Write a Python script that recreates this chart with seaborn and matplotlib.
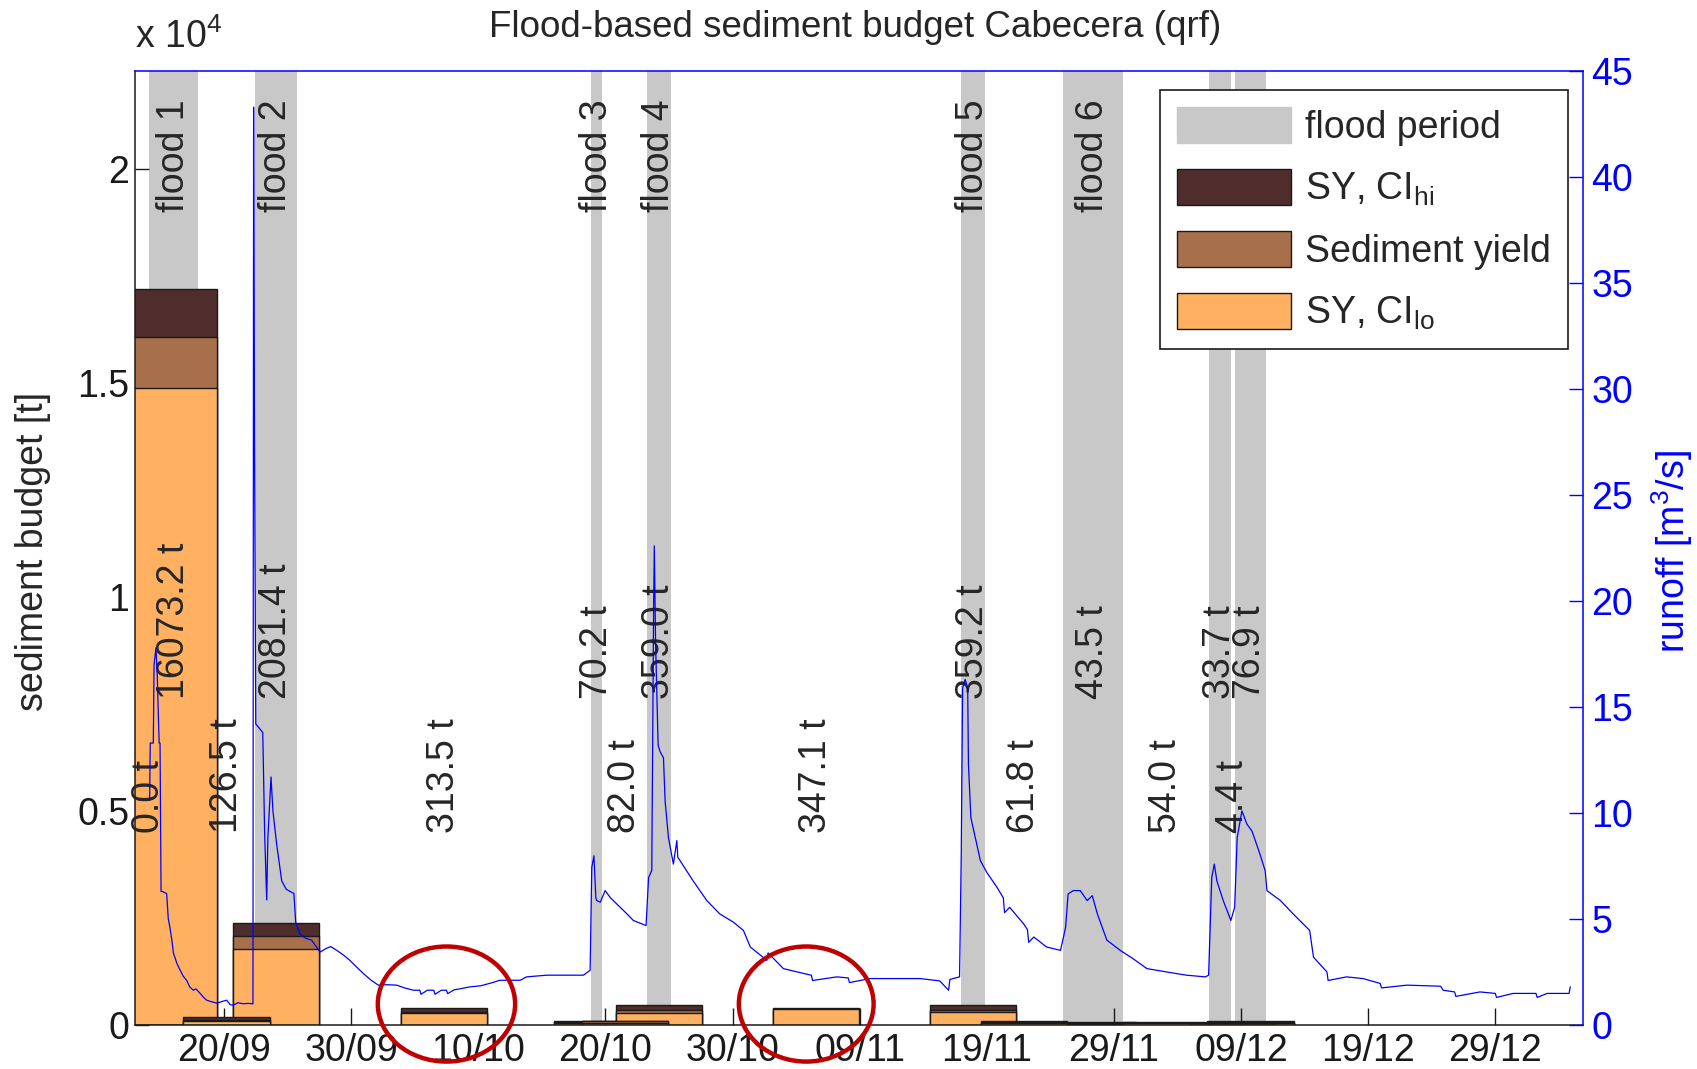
import numpy as np
import pandas as pd
import seaborn as sns
import matplotlib
matplotlib.use('Agg')
import matplotlib.pyplot as plt
import matplotlib.dates as mdates
from matplotlib.patches import Patch, Ellipse

# ---- data ----
origin = pd.Timestamp('2009-09-13 00:00')
record_start = '2009-09-14 01:00'

flood_names = ['flood 1', 'flood 2', 'flood 3', 'flood 4', 'flood 5', 'flood 6', '', '']
flood_start = ['2009-09-14 03:00', '2009-09-22 11:00', '2009-10-18 21:00', '2009-10-23 07:00',
               '2009-11-16 23:00', '2009-11-24 23:00', '2009-12-06 11:00', '2009-12-08 12:30']
flood_end = ['2009-09-17 23:00', '2009-09-25 17:00', '2009-10-19 18:30', '2009-10-25 04:00',
             '2009-11-18 21:00', '2009-11-29 17:00', '2009-12-08 05:30', '2009-12-10 23:00']

# sediment budget of each flood [t]
flood_sy = [16073.2, 2081.4, 70.2, 359.0, 359.2, 43.5, 33.7, 76.9]
flood_ci_lo = [14900, 1765, 50, 290, 300, 30, 22, 52]
flood_ci_hi = [17200, 2390, 95, 465, 460, 60, 48, 105]

# sediment budget of the period before each flood [t]
inter_sy = [0.0, 126.5, 313.5, 82.0, 347.1, 61.8, 54.0, 4.4]
inter_ci_lo = [0, 95, 290, 55, 385, 45, 38, 3]
inter_ci_hi = [0, 190, 405, 105, 390, 85, 75, 6]

# runoff [m3/s], time in days after origin
runoff_day = [1.15, 1.20, 1.44, 1.50, 1.65, 1.75, 1.90, 1.97, 2.05, 2.15, 2.49, 2.62, 2.75, 2.90,
              3.02, 3.30, 3.54, 3.80, 4.07, 4.30, 4.59, 4.80, 5.11, 5.40, 5.64, 6.00, 6.43, 6.80,
              7.21, 7.50, 7.74, 8.10, 8.52, 8.90, 9.28, 9.33, 9.40, 9.50, 10.05, 10.20, 10.36,
              10.45, 10.70, 10.85, 11.15, 11.54, 11.90, 12.20, 12.50, 12.64, 12.98, 13.40, 13.90,
              14.56, 15.00, 15.40, 15.87, 16.40, 16.90, 17.40, 17.96, 18.60, 19.14, 19.80, 20.59,
              21.20, 21.90, 22.40, 22.50, 23.00, 23.50, 23.60, 24.10, 24.50, 24.60, 25.10, 25.50,
              26.36, 27.20, 28.06, 28.70, 30.30, 30.80, 32.40,
              35.27, 35.80, 35.93, 36.10, 36.25, 36.33, 36.60, 36.98, 37.40, 37.90, 38.70, 39.20,
              40.20, 40.40, 40.65, 40.80, 40.85, 40.95, 41.05, 41.15, 41.30, 41.57, 41.70, 41.96,
              42.35, 42.62, 42.70, 42.88, 43.90, 44.98, 46.00, 47.07, 47.86, 48.40, 49.70, 49.80,
              51.00, 52.60, 53.20, 53.30, 55.20, 56.10, 56.20, 57.80, 60.20, 61.76, 63.30, 64.00,
              64.10, 64.86, 64.99, 65.10, 65.30,
              65.50, 65.56, 65.75, 66.10, 66.50, 67.00, 67.80, 68.30, 68.40, 68.80, 69.90, 70.20,
              70.30, 70.70, 71.70, 72.80,
              73.20, 73.40, 73.80, 74.35, 74.90, 75.30, 75.70, 76.45, 77.50, 78.50, 79.60, 81.17,
              82.70, 84.20, 84.45, 84.70, 84.90, 85.10, 85.60, 86.20, 86.50, 86.70, 87.07, 87.47,
              87.86, 88.40, 88.90, 89.04, 90.10, 91.10, 92.40, 92.70, 93.76, 93.85, 95.30, 96.60,
              97.95, 98.05, 100.05, 102.70, 102.90, 103.80, 103.90, 105.80, 107.00, 107.10, 108.40,
              110.20, 110.30, 111.07, 112.80, 112.90]
runoff_q = [10.6, 13.3, 13.3, 17.0, 17.8, 16.5, 13.3, 13.3, 6.3, 6.3, 6.2, 5.0, 4.6, 4.0,
            3.4, 2.9, 2.6, 2.3, 2.1, 1.8, 1.64, 1.7, 1.5, 1.3, 1.17, 1.1, 1.03, 1.1,
            1.17, 0.95, 0.94, 1.05, 1.0, 1.02, 1.0, 43.3, 27.7, 14.2, 13.8, 9.0, 5.9,
            8.8, 11.7, 10.1, 8.5, 6.8, 6.4, 6.3, 6.2, 4.85, 4.3, 4.1, 4.0,
            3.44, 3.6, 3.7, 3.52, 3.3, 3.05, 2.75, 2.43, 2.1, 1.88, 1.9, 1.88,
            1.75, 1.64, 1.64, 1.45, 1.64, 1.64, 1.45, 1.64, 1.64, 1.48, 1.66, 1.7,
            1.8, 1.85, 1.99, 2.11, 2.11, 2.27, 2.35,
            2.35, 2.58, 7.43, 7.98, 6.0, 5.87, 5.79, 6.34, 6.0, 5.71, 5.24, 4.93,
            4.69, 6.96, 7.28, 20.0, 22.6, 18.0, 15.6, 13.2, 12.9, 12.6, 10.56, 8.84,
            7.59, 8.7, 7.9, 7.75, 6.8, 5.87, 5.24, 4.85, 4.46, 3.68, 3.05, 3.4,
            2.66, 2.43, 2.35, 2.1, 2.27, 2.22, 2.0, 2.19, 2.19, 2.19, 2.08, 1.64,
            2.15, 2.27, 7.9, 15.9, 16.3,
            15.9, 12.3, 9.78, 8.84, 7.75, 7.2, 6.5, 6.0, 5.3, 5.55, 4.77, 4.5,
            3.9, 4.15, 3.68, 3.52,
            4.6, 6.18, 6.34, 6.34, 5.87, 6.1, 5.24, 4.0, 3.52, 3.13, 2.66, 2.5,
            2.35, 2.27, 2.35, 6.96, 7.59, 6.8, 5.87, 4.93, 5.55, 8.84, 10.1, 9.47,
            9.15, 8.22, 7.28, 6.34, 5.87, 5.24, 4.46, 3.2, 2.5, 2.1, 2.27, 2.19,
            1.96, 1.75, 1.88, 1.83, 1.64, 1.56, 1.35, 1.56, 1.49, 1.3, 1.49,
            1.49, 1.3, 1.49, 1.49, 1.8]

date_ticks = pd.date_range('2009-09-20', '2009-12-29', freq='10D')

# ---- styling ----
sns.set_theme(style='white')
plt.rcParams['font.family'] = ['Liberation Sans', 'DejaVu Sans']
plt.rcParams['mathtext.fontset'] = 'custom'
plt.rcParams['mathtext.rm'] = 'Liberation Sans'
plt.rcParams['mathtext.it'] = 'Liberation Sans:italic'
plt.rcParams['mathtext.bf'] = 'Liberation Sans:bold'

fs = 27
grey = '#c8c8c8'
c_hi = '#4f2d2d'
c_sy = '#a8704a'
c_lo = '#ffb061'
bar_w = 6.8  # days

fig = plt.figure(figsize=(16.97, 10.69), dpi=100)
ax1 = fig.add_axes([0.07955, 0.04116, 0.85327, 0.8924])
ax2 = ax1.twinx()

fs_start = mdates.date2num(pd.to_datetime(flood_start))
fs_end = mdates.date2num(pd.to_datetime(flood_end))
prev_end = np.concatenate([[mdates.date2num(pd.Timestamp(record_start))], fs_end[:-1]])
flood_mid = (fs_start + fs_end) / 2
inter_mid = (prev_end + fs_start) / 2

# flood periods
for s, e in zip(fs_start, fs_end):
    ax1.axvspan(s, e, color=grey, lw=0, zorder=0.5)


def draw_bar(x, lo, sy, hi):
    ax1.bar(x, hi, width=bar_w, color=c_hi, edgecolor='k', lw=1, zorder=2)
    ax1.bar(x, sy, width=bar_w, color=c_sy, edgecolor='k', lw=1, zorder=2)
    ax1.bar(x, lo, width=bar_w, color=c_lo, edgecolor='k', lw=1, zorder=2)


for x, lo, sy, hi in zip(flood_mid, flood_ci_lo, flood_sy, flood_ci_hi):
    draw_bar(x, lo, sy, hi)
for x, lo, sy, hi in zip(inter_mid, inter_ci_lo, inter_sy, inter_ci_hi):
    draw_bar(x, lo, sy, hi)

# labels
for x, name, sy in zip(flood_mid, flood_names, flood_sy):
    if name:
        ax1.text(x, 19000, name, rotation=90, ha='center', va='bottom', fontsize=fs, zorder=3)
    ax1.text(x, 7630, f'{sy:.1f} t', rotation=90, ha='center', va='bottom', fontsize=fs, zorder=3)
for x, sy in zip(inter_mid, inter_sy):
    ax1.text(x, 4480, f'{sy:.1f} t', rotation=90, ha='center', va='bottom', fontsize=fs, zorder=3)

# runoff
runoff = pd.DataFrame({'time': origin + pd.to_timedelta(runoff_day, unit='D'), 'q': runoff_q})
sns.lineplot(data=runoff, x='time', y='q', ax=ax2, color='#0000ff', lw=0.9, estimator=None)

# axes
ax1.set_xlim(mdates.date2num(origin), mdates.date2num(origin + pd.Timedelta(days=113.9)))
ax1.set_ylim(0, 22300)
ax2.set_ylim(0, 45)
ax1.set_xticks(mdates.date2num(date_ticks))
ax1.xaxis.set_major_formatter(mdates.DateFormatter('%d/%m'))
ax1.set_yticks([0, 5000, 10000, 15000, 20000])
ax1.set_yticklabels(['0', '0.5', '1', '1.5', '2'])
ax2.set_yticks(range(0, 46, 5))
ax1.set_xlabel('')
ax1.set_ylabel('')
ax2.set_xlabel('')
ax2.set_ylabel('')

ax1.tick_params(axis='x', direction='in', length=12, width=1, pad=6, labelsize=fs, colors='k', bottom=True)
ax1.tick_params(axis='y', direction='in', length=10, width=1, pad=4, labelsize=fs, colors='k', left=True)
ax2.tick_params(axis='y', direction='in', length=10, width=1, pad=6, labelsize=fs, colors='#0000ff', right=True)

for side in ['top', 'right']:
    ax1.spines[side].set_visible(False)
for side in ['left', 'bottom']:
    ax1.spines[side].set_color('k')
    ax1.spines[side].set_linewidth(1.1)
    ax2.spines[side].set_visible(False)
for side in ['top', 'right']:
    ax2.spines[side].set_color('#0000ff')
    ax2.spines[side].set_linewidth(1.1)

# highlight circles
for cx, w in [(24.5, 10.8), (52.8, 10.6)]:
    ax2.add_patch(Ellipse((mdates.date2num(origin + pd.Timedelta(days=cx)), 490), w, 2690,
                          transform=ax1.transData, fill=False, edgecolor='#c00000', lw=3.2,
                          clip_on=False, zorder=10))

# legend
handles = [Patch(facecolor=grey, edgecolor=grey, label='flood period'),
           Patch(facecolor=c_hi, edgecolor='k', label=r'SY, CI$_{\mathrm{hi}}$'),
           Patch(facecolor=c_sy, edgecolor='k', label='Sediment yield'),
           Patch(facecolor=c_lo, edgecolor='k', label=r'SY, CI$_{\mathrm{lo}}$')]
leg = ax2.legend(handles=handles, loc='upper right', bbox_to_anchor=(0.9896, 0.980),
                 borderaxespad=0, fontsize=fs, frameon=True, fancybox=False, edgecolor='k',
                 framealpha=1, handlelength=3.05, handleheight=1.1, handletextpad=0.38,
                 labelspacing=0.62, borderpad=0.45)
leg.get_frame().set_linewidth(1.2)

# titles and axis labels
fig.text(0.504, 0.9747, 'Flood-based sediment budget Cabecera (qrf)', ha='center', va='center', fontsize=26.5)
fig.text(135 / 1697, 0.948, r'x 10$^{4}$', ha='left', va='bottom', fontsize=fs)
fig.text(0.0192, 0.484, 'sediment budget [t]', rotation=90, ha='center', va='center', fontsize=fs)
fig.text(0.9853, 0.484, r'runoff [m$^{3}$/s]', rotation=90, ha='center', va='center',
         fontsize=fs, color='#0000ff')

fig.savefig('out.png', dpi=100)
